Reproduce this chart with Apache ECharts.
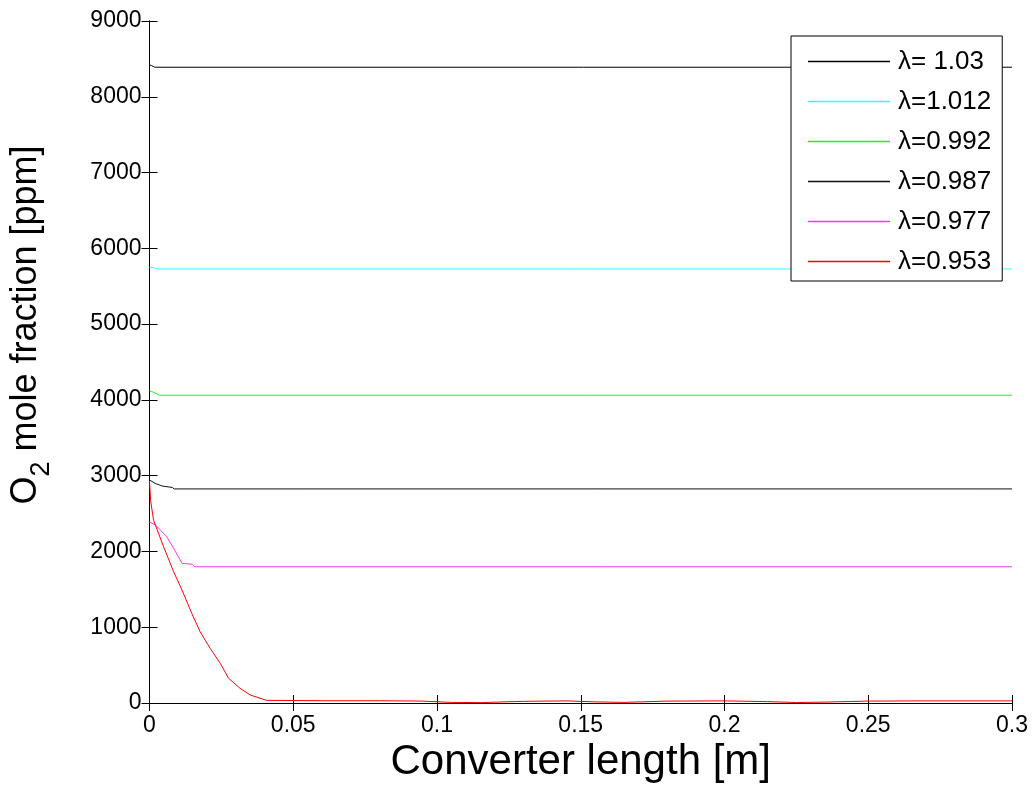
<!DOCTYPE html>
<html>
<head>
<meta charset="utf-8">
<script src="https://cdn.jsdelivr.net/npm/echarts@6/dist/echarts.min.js"></script>
<style>
  html, body { margin: 0; padding: 0; background: #fff; }
  #chart { width: 1035px; height: 791px; }
</style>
</head>
<body>
<div id="chart"></div>
<script>
// O2 mole fraction along the converter for several air/fuel ratios
const xTicks = [0, 0.05, 0.1, 0.15, 0.2, 0.25, 0.3];
const yTicks = [0, 1000, 2000, 3000, 4000, 5000, 6000, 7000, 8000, 9000];

const names = ['λ= 1.03', 'λ=1.012', 'λ=0.992', 'λ=0.987', 'λ=0.977', 'λ=0.953'];
const colors = ['#000000', '#33ffff', '#22ee22', '#111111', '#ff33ff', '#ff0000'];

// lambda = 1.03
const lam103X = [0, 0.0008, 0.0018, 0.3];
const lam103Y = [8420, 8410, 8390, 8390];
// lambda = 1.012
const lam1012X = [0, 0.0012, 0.0028, 0.3];
const lam1012Y = [5750, 5748, 5728, 5728];
// lambda = 0.992
const lam0992X = [0, 0.0008, 0.0035, 0.3];
const lam0992Y = [4120, 4110, 4062, 4062];
// lambda = 0.987
const lam0987X = [0, 0.002, 0.0044, 0.0079, 0.0086, 0.3];
const lam0987Y = [2942, 2898, 2863, 2845, 2825, 2825];
// lambda = 0.977
const lam0977X = [0, 0.0021, 0.006, 0.0084, 0.0113, 0.0118, 0.015, 0.0157, 0.3];
const lam0977Y = [2388, 2348, 2194, 2040, 1843, 1830, 1830, 1798, 1798];
// lambda = 0.953
const lam0953X = [0, 0.0004, 0.0014, 0.0049, 0.0084, 0.0113, 0.0147, 0.0176, 0.0211, 0.0246,
                  0.0275, 0.0315, 0.035, 0.0407, 0.06, 0.08, 0.095, 0.105, 0.115, 0.13, 0.145,
                  0.155, 0.165, 0.18, 0.2, 0.215, 0.225, 0.235, 0.25, 0.27, 0.3];
const lam0953Y = [2930, 2670, 2414, 2062, 1732, 1491, 1183, 941, 721, 524,
                  326, 194, 106, 35, 30, 30, 25, 8, 5, 22, 28,
                  15, 8, 25, 28, 18, 6, 12, 25, 28, 28];

const xs = [lam103X, lam1012X, lam0992X, lam0987X, lam0977X, lam0953X];
const ys = [lam103Y, lam1012Y, lam0992Y, lam0987Y, lam0977Y, lam0953Y];

const font = 'Liberation Sans, Arial, Helvetica, sans-serif';

const series = names.map((n, i) => ({
  name: n,
  type: 'line',
  symbol: 'none',
  smooth: false,
  animation: false,
  color: colors[i],
  lineStyle: { color: colors[i], width: 1 },
  itemStyle: { color: colors[i] },
  data: xs[i].map((x, k) => [x, ys[i][k]])
}));

// legend swatches: a thin bar in each series colour
const legendData = names.map((n, i) => ({
  name: n,
  icon: 'rect',
  itemStyle: { color: colors[i], opacity: 1, borderWidth: 0 },
  lineStyle: { opacity: 0 }
}));

const boxAxis = {
  axisLine: { show: true, lineStyle: { color: '#000', width: 1 } },
  axisTick: { show: true, inside: true, length: 8, lineStyle: { color: '#000' } },
  splitLine: { show: false }
};

const chart = echarts.init(document.getElementById('chart'));
chart.setOption({
  animation: false,
  backgroundColor: '#ffffff',
  color: colors,
  grid: { left: 149, right: 23, top: 21, bottom: 88 },
  legend: {
    orient: 'vertical',
    left: 791,
    top: 36,
    data: legendData,
    itemWidth: 82,
    itemHeight: 1.5,
    itemGap: 13,
    padding: [12, 11, 6, 17],
    backgroundColor: '#ffffff',
    borderColor: '#000000',
    borderWidth: 1,
    borderRadius: 0,
    textStyle: { fontFamily: font, fontSize: 26, lineHeight: 27, color: '#000', padding: [0, 0, 0, 3] }
  },
  xAxis: [Object.assign({
    type: 'value',
    min: 0, max: 0.3, interval: 0.05,
    name: 'Converter length [m]',
    nameLocation: 'middle',
    nameGap: 32,
    nameTextStyle: { fontFamily: font, fontSize: 42, color: '#000', verticalAlign: 'top' },
    axisLabel: {
      fontFamily: font, fontSize: 23, color: '#000', margin: 11,
      formatter: v => xTicks.includes(+v.toFixed(2)) ? String(+v.toFixed(2)) : ''
    }
  }, boxAxis), Object.assign({
    type: 'value', position: 'top',
    min: 0, max: 0.3, interval: 0.05,
    axisLabel: { show: false }
  }, boxAxis)],
  yAxis: [Object.assign({
    type: 'value',
    min: 0, max: 9000, interval: 1000,
    name: '{n|O}{s|2}{n| mole fraction [ppm]}',
    nameLocation: 'middle',
    nameGap: 94,
    nameRotate: 90,
    nameTextStyle: {
      fontFamily: font, color: '#000',
      padding: [0, 0, 0, 74],
      rich: {
        n: { fontFamily: font, fontSize: 36, color: '#000' },
        s: { fontFamily: font, fontSize: 27, color: '#000', padding: [32, 0, 0, 0] }
      }
    },
    axisLabel: {
      fontFamily: font, fontSize: 23, color: '#000', margin: 8,
      formatter: v => yTicks.includes(v) ? String(v) : ''
    }
  }, boxAxis), Object.assign({
    type: 'value', position: 'right',
    min: 0, max: 9000, interval: 1000,
    axisLabel: { show: false }
  }, boxAxis)],
  series: series
});
</script>
</body>
</html>
